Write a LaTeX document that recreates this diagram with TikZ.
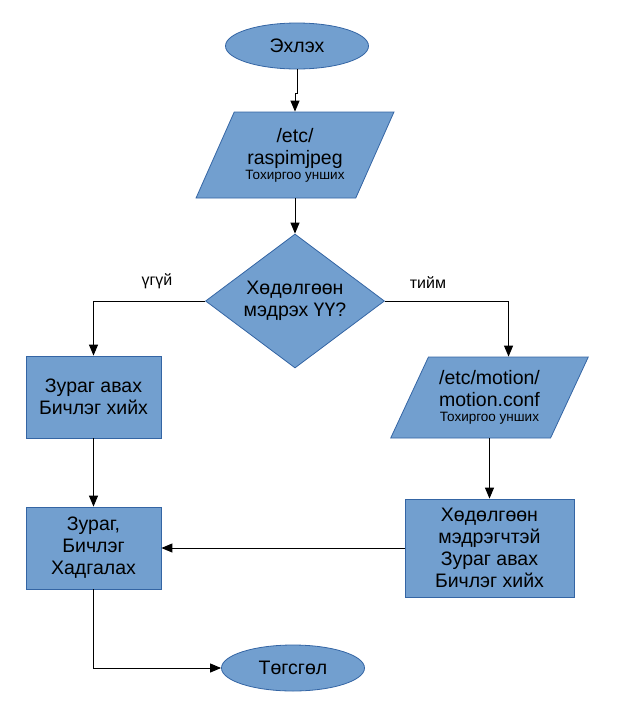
\documentclass[tikz,border=0pt]{standalone}
\usepackage{fontspec}
\setmainfont{Liberation Sans}
\usepackage{tikz}
\usetikzlibrary{shapes.geometric}
\usetikzlibrary{arrows.meta}
\usetikzlibrary{calc}
\definecolor{boxfill}{HTML}{729FCF}
\definecolor{boxline}{HTML}{3465A4}
\tikzstyle{arrow}= [line width=1pt, -{Triangle[length=11pt,width=9pt]}]
\tikzstyle{line}= [line width=1pt]
\newcommand{\conftext}{{\fontsize{13.5}{14}\selectfont Тохиргоо унших}}

\begin{document}
\begin{tikzpicture}[
    x=1pt, y=-1pt,
    every node/.style={font=\fontsize{19.5}{22}\selectfont},
    block/.style={draw=boxline, fill=boxfill, line width=0.8pt, inner sep=0pt, align=center},
    terminal/.style={block, ellipse, minimum width=143pt, minimum height=46pt},
    io/.style={block, trapezium, trapezium left angle=60, trapezium right angle=120,
      trapezium stretches=true, minimum width=198pt},
    process/.style={block, rectangle},
    decision/.style={block, diamond, aspect=1.34, minimum width=179pt, minimum height=134pt},
    answer/.style={font=\fontsize{16}{19}\selectfont}
  ]
  \useasboundingbox (0,0) rectangle (618,705);

  \node[terminal] (start) at (297,46) {Эхлэх};
  \node[io,minimum height=86pt] (raspi) at (295,155) {/etc/\\raspimjpeg\\[-7pt]\conftext};
  \node[decision] (detect) at (295,301) {Хөдөлгөөн\\мэдрэх ҮҮ?};
  \node[process,minimum width=135pt,minimum height=82pt] (capture) at (93.5,397) {Зураг авах\\Бичлэг хийх};
  \node[io,minimum height=81pt] (motion) at (489.5,397.5) {/etc/motion/\\motion.conf\\[-7pt]\conftext};
  \node[process,minimum width=135pt,minimum height=82pt] (save) at (93.5,548) {Зураг,\\Бичлэг\\Хадгалах};
  \node[process,minimum width=169pt,minimum height=98pt] (record) at (489.5,548) {Хөдөлгөөн\\мэдрэгчтэй\\Зураг авах\\Бичлэг хийх};
  \node[terminal] (stop) at (293,668) {Төгсгөл};
  \node[answer] (no) at (157,281) {үгүй};
  \node[answer] (yes) at (428,283) {тийм};

  \draw[arrow] (start.south) -- ++(0,24) -| (raspi.center |- raspi.top side);
  \draw[arrow] (raspi.center |- raspi.bottom side) -- (detect.north);
  \draw[arrow] (detect.west) -| (capture.north);
  \draw[arrow] (detect.east) -| (motion.top side);
  \draw[arrow] (capture.south) -- (save.north);
  \draw[arrow] (motion.center |- motion.bottom side) -- (record.north);
  \draw[arrow] (record.west) -- (save.east);
  \draw[arrow] (save.south) |- (stop.west);

\end{tikzpicture}
\end{document}
